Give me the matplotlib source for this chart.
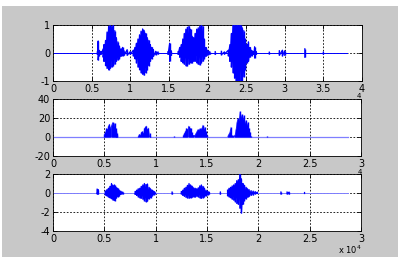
import numpy as np
import matplotlib
matplotlib.use("Agg")
import matplotlib.pyplot as plt
from matplotlib.patches import Rectangle

# ******************************
## Data (x in units of 1e4 samples)
# ******************************
# top: speech signal, envelope of the waveform (upper / lower peaks)
x1 = [0.575, 0.585, 0.595, 0.62, 0.65, 0.66, 0.68, 0.70, 0.72, 0.74, 0.76, 0.78,
      0.80, 0.82, 0.84, 0.86, 0.88, 0.90, 0.92, 0.96, 1.00,
      1.04, 1.06, 1.08, 1.10, 1.12, 1.14, 1.16, 1.18, 1.20, 1.22, 1.24, 1.26, 1.28,
      1.30, 1.33, 1.36, 1.49, 1.51, 1.53,
      1.62, 1.64, 1.66, 1.68, 1.70, 1.72, 1.74, 1.76, 1.78, 1.80, 1.82, 1.84, 1.86,
      1.88, 1.90, 1.92, 1.94, 1.96, 1.98, 2.00, 2.03, 2.10, 2.18, 2.22,
      2.27, 2.29, 2.31, 2.33, 2.35, 2.37, 2.39, 2.41, 2.43, 2.45, 2.47, 2.49, 2.51,
      2.53, 2.55, 2.57, 2.60, 2.61, 2.63,
      2.80, 2.93, 2.97, 3.00, 3.26, 3.50]
top1 = [0.05, 0.43, 0.10, 0.05, 0.15, 0.30, 0.45, 0.75, 0.95, 1.00, 0.95, 1.00,
        0.80, 0.55, 0.40, 0.25, 0.15, 0.20, 0.08, 0.12, 0.05,
        0.10, 0.20, 0.35, 0.50, 0.65, 0.78, 0.86, 0.80, 0.70, 0.55, 0.45, 0.30, 0.20,
        0.12, 0.06, 0.04, 0.05, 0.35, 0.08,
        0.05, 0.20, 0.30, 0.50, 0.70, 0.85, 0.92, 0.95, 0.85, 0.60, 0.55, 0.70, 0.85,
        0.90, 0.95, 1.00, 0.95, 0.50, 0.20, 0.10, 0.05, 0.05, 0.06, 0.04,
        0.10, 0.30, 0.70, 1.00, 1.00, 1.00, 1.00, 1.00, 1.00, 0.90, 0.80, 0.50, 0.30,
        0.40, 0.20, 0.10, 0.05, 0.22, 0.05,
        0.03, 0.08, 0.10, 0.08, 0.15, 0.03]
bot1 = [-0.05, -0.25, -0.10, -0.05, -0.15, -0.30, -0.45, -0.55, -0.60, -0.55, -0.50, -0.45,
        -0.40, -0.30, -0.25, -0.20, -0.12, -0.10, -0.08, -0.08, -0.05,
        -0.10, -0.20, -0.35, -0.50, -0.60, -0.70, -0.76, -0.79, -0.70, -0.60, -0.45, -0.30, -0.20,
        -0.12, -0.06, -0.04, -0.05, -0.30, -0.08,
        -0.05, -0.15, -0.30, -0.35, -0.40, -0.45, -0.45, -0.40, -0.35, -0.35, -0.30, -0.30, -0.35,
        -0.40, -0.42, -0.35, -0.30, -0.20, -0.12, -0.08, -0.05, -0.05, -0.06, -0.04,
        -0.10, -0.30, -0.50, -0.70, -0.90, -1.00, -1.00, -1.00, -1.00, -1.00, -0.85, -0.60, -0.35,
        -0.30, -0.15, -0.10, -0.05, -0.18, -0.05,
        -0.03, -0.08, -0.10, -0.08, -0.15, -0.03]
end1 = 3.8

# middle: short-time energy
x2 = [0.500, 0.51, 0.52, 0.53, 0.54, 0.55, 0.56, 0.57, 0.58, 0.59, 0.60, 0.61, 0.615, 0.62, 0.625,
      0.83, 0.84, 0.85, 0.86, 0.87, 0.88, 0.89, 0.90, 0.91, 0.92, 0.93, 0.94, 0.945,
      1.18,
      1.27, 1.28, 1.29, 1.30, 1.31, 1.32, 1.33, 1.34, 1.35, 1.36,
      1.38, 1.39, 1.40, 1.41, 1.42, 1.43, 1.44, 1.45, 1.46, 1.47, 1.48, 1.49, 1.50,
      1.70, 1.71, 1.72, 1.73, 1.74, 1.75, 1.77, 1.78, 1.79, 1.80, 1.81, 1.82, 1.83,
      1.84, 1.85, 1.86, 1.87, 1.88, 1.89, 1.90, 1.91, 1.92, 1.93,
      2.08]
e2 = [3, 5, 9, 8, 12, 14, 10, 13, 16, 12, 15, 9, 6, 4, 2,
      1, 3, 2, 5, 6, 4, 9, 11, 12, 8, 10, 4, 1,
      1,
      2, 4, 6, 9, 8, 12, 10, 9, 5, 2,
      2, 4, 6, 8, 7, 9, 8, 10, 13, 8, 11, 6, 2,
      1, 3, 5, 11, 2, 1, 2, 8, 16, 20, 18, 27, 21,
      24, 19, 23, 15, 18, 13, 16, 9, 5, 1,
      1]
end2 = 2.87

# bottom: filtered signal, envelope
x3 = [0.43, 0.44,
      0.51, 0.525, 0.54, 0.555, 0.57, 0.585, 0.60, 0.615, 0.63, 0.645, 0.66, 0.68,
      0.80, 0.815, 0.83, 0.845, 0.86, 0.875, 0.89, 0.905, 0.92, 0.935, 0.95, 0.965, 0.98, 0.99,
      1.16,
      1.25, 1.265, 1.28, 1.295, 1.31, 1.325, 1.34, 1.355, 1.37, 1.385, 1.40, 1.415, 1.43,
      1.445, 1.46, 1.475, 1.49, 1.505, 1.52,
      1.63,
      1.70, 1.715, 1.73, 1.745, 1.76, 1.775, 1.79, 1.805, 1.82, 1.835, 1.85, 1.865, 1.88,
      1.895, 1.91, 1.93, 1.95, 1.97, 1.99,
      2.22, 2.28, 2.30, 2.45]
top3 = [0.4, 0.35,
        0.2, 0.35, 0.5, 0.7, 1.0, 0.8, 0.85, 0.6, 0.5, 0.3, 0.2, 0.1,
        0.15, 0.3, 0.45, 0.5, 0.7, 0.85, 1.0, 0.9, 0.95, 0.6, 0.45, 0.3, 0.2, 0.1,
        0.1,
        0.15, 0.3, 0.5, 0.6, 0.8, 1.0, 0.85, 0.7, 0.55, 0.5, 0.45, 0.55, 0.75,
        0.85, 0.7, 0.5, 0.3, 0.2, 0.1,
        0.1,
        0.3, 0.5, 0.6, 0.75, 0.85, 1.0, 1.3, 1.4, 2.0, 1.5, 1.0, 0.8, 0.6,
        0.45, 0.35, 0.25, 0.2, 0.15, 0.1,
        0.1, 0.1, 0.1, 0.05]
bot3 = [-0.1, -0.1,
        -0.2, -0.3, -0.4, -0.5, -0.6, -0.75, -0.8, -0.55, -0.4, -0.3, -0.15, -0.1,
        -0.15, -0.25, -0.4, -0.5, -0.55, -0.65, -0.8, -0.9, -0.85, -0.6, -0.5, -0.3, -0.2, -0.1,
        -0.1,
        -0.1, -0.25, -0.35, -0.45, -0.5, -0.55, -0.5, -0.45, -0.4, -0.4, -0.35, -0.4, -0.5,
        -0.55, -0.5, -0.4, -0.3, -0.2, -0.1,
        -0.1,
        -0.3, -0.4, -0.5, -0.65, -0.75, -0.9, -1.1, -1.2, -1.6, -2.1, -1.2, -0.8, -0.6,
        -0.45, -0.35, -0.25, -0.2, -0.1, -0.05,
        -0.1, -0.1, -0.1, -0.05]
end3 = 2.87

blue = '#0000ff'
light = '#7f7fff'
gray = '#c8c8c8'

fig = plt.figure(figsize=(3.98, 2.60), dpi=100, facecolor='white')
bg = Rectangle((2/398, 3/260), 396/398, 251/260, transform=fig.transFigure,
               facecolor=gray, edgecolor='none', zorder=-10)
fig.patches.append(bg)

def split_gaps(x, cols, gap=0.05):
    # one x per value in cols[i]; NaN between points further apart than gap
    ox, oy = [], []
    for i, v in enumerate(x):
        if i > 0 and v - x[i-1] > gap:
            ox.append(np.nan)
            oy.append(np.nan)
        for c in cols[i]:
            ox.append(v)
            oy.append(c)
    return ox, oy

def wave(ax, x, top, bot, end, base):
    # baseline, then zigzag between upper and lower peaks
    ax.plot([0, end], [0, 0], color=base, lw=0.7, zorder=2)
    px, py = split_gaps(x, [[t, b] for t, b in zip(top, bot)])
    ax.plot(px, py, color=blue, lw=0.9, zorder=3)
    ax.vlines(x, bot, top, color=blue, lw=1.0, zorder=3)

def style(ax, xlim, ylim, xt, yt):
    ax.set_facecolor('white')
    ax.set_xlim(xlim)
    ax.set_ylim(ylim)
    ax.set_xticks(xt)
    ax.set_yticks(yt)
    ax.set_xticklabels([('%g' % v) for v in xt])
    ax.set_yticklabels([('%g' % v) for v in yt])
    ax.tick_params(direction='in', length=3, width=0.6, labelsize=7, pad=2,
                   top=True, right=True)
    ax.grid(True, color='black', linestyle=(0, (2, 2)), linewidth=0.6)
    ax.set_axisbelow(True)
    for s in ax.spines.values():
        s.set_linewidth(0.6)

ax1 = fig.add_axes([53/398, 1-81/260, 309/398, 56/260])
wave(ax1, x1, top1, bot1, end1, blue)
style(ax1, (0, 4), (-1, 1), [0, 0.5, 1, 1.5, 2, 2.5, 3, 3.5, 4], [-1, 0, 1])

ax2 = fig.add_axes([53/398, 1-156/260, 308/398, 57/260])
ax2.plot([0, end2], [0, 0], color=light, lw=0.9, zorder=2)
ax2.vlines(x2, 0, e2, color=blue, lw=1.0, zorder=3)
ex, ey = split_gaps(x2, [[v] for v in e2])
ax2.fill_between(ex, 0, ey, color=blue, lw=0, alpha=0.85, zorder=3)
style(ax2, (0, 3), (-20, 40), [0, 0.5, 1, 1.5, 2, 2.5, 3], [-20, 0, 20, 40])

ax3 = fig.add_axes([53/398, 1-231/260, 308/398, 57/260])
wave(ax3, x3, top3, bot3, end3, light)
style(ax3, (0, 3), (-4, 2), [0, 0.5, 1, 1.5, 2, 2.5, 3], [-4, -2, 0, 2])

# multiplier labels (upper ones hidden behind the next axes, as in MATLAB)
fig.text(359/398, 1-99/260, '4', fontsize=5, ha='center', va='bottom')
fig.text(360/398, 1-174.5/260, '4', fontsize=5, ha='center', va='bottom')
fig.text(362/398, 1-254/260, r'x 10$^{4}$', fontsize=6, ha='right', va='baseline')

fig.savefig('out.png', dpi=100, facecolor=fig.get_facecolor())
